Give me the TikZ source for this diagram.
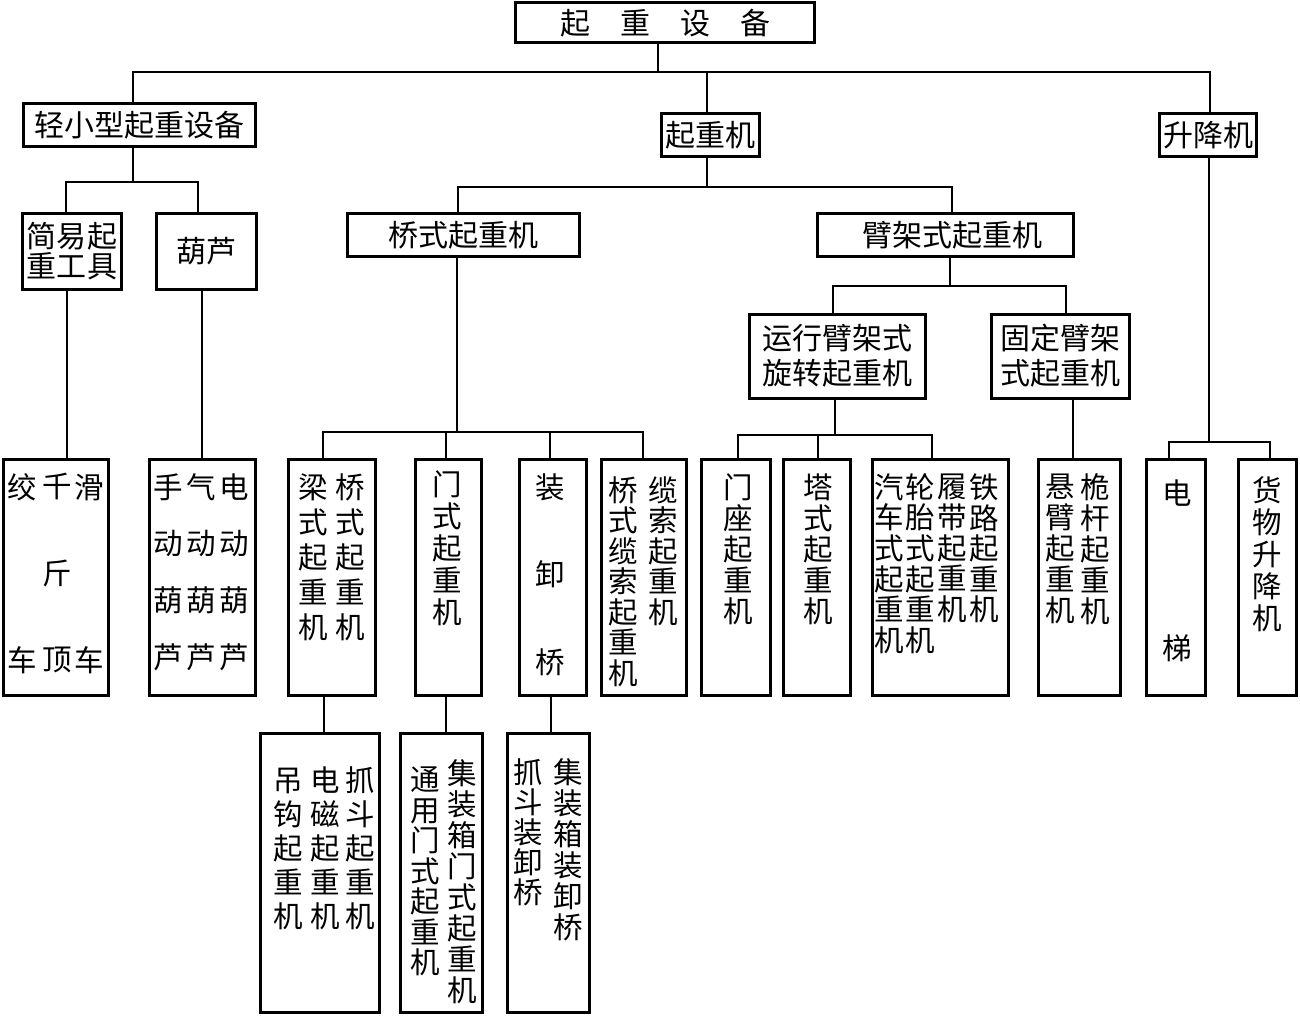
\documentclass[tikz,border=0pt]{standalone}
\usepackage{fontspec}
\newfontfamily\cjk{Noto Sans CJK SC}
\begin{document}
\begin{tikzpicture}[x=1pt,y=-1pt,
  box/.style={draw,line width=3pt,inner sep=0pt,outer sep=0pt,align=center,
    font=\cjk\fontsize{30}{33}\selectfont},
  conn/.style={line width=2pt},
  vt/.style={inner sep=0pt,outer sep=0pt,align=center}]
\useasboundingbox (0,0) rectangle (1300,1016);
\fill[white] (0,0) rectangle (1300,1016);
% ---- level 0 / 1
\node[box,minimum width=299,minimum height=40] (root) at (665,23)
  {起\hspace{30pt}重\hspace{30pt}设\hspace{30pt}备};
\node[box,minimum width=232,minimum height=43] (l1) at (139.5,125.5) {轻小型起重设备};
\node[box,minimum width=98,minimum height=43] (l2) at (710.5,135.5) {起重机};
\node[box,minimum width=97,minimum height=43] (l3) at (1208,135.5) {升降机};
% ---- level 2
\node[box,minimum width=99,minimum height=76,font=\cjk\fontsize{30}{30}\selectfont] (a1) at (72,251.5) {简易起\\重工具};
\node[box,minimum width=100,minimum height=76] (a2) at (206.5,251.5) {葫芦};
\node[box,minimum width=232,minimum height=43] (b1) at (463.5,235.5) {桥式起重机};
\node[box,minimum width=256,minimum height=43] (b2) at (945.5,235.5) {\hspace{13pt}臂架式起重机};
% ---- level 3
\node[box,minimum width=176,minimum height=84,font=\cjk\fontsize{30}{35}\selectfont] (c1) at (837.5,356) {运行臂架式\\旋转起重机};
\node[box,minimum width=138,minimum height=84,font=\cjk\fontsize{30}{35}\selectfont] (c2) at (1060.5,356) {固定臂架\\式起重机};
% ---- level 4 boxes
\tikzset{lv4/.style={box,minimum height=236}}
\node[lv4,minimum width=105] (d1) at (56,577) {};
\node[lv4,minimum width=106] (d2) at (202.5,577) {};
\node[lv4,minimum width=87] (d3) at (332,577) {};
\node[lv4,minimum width=66] (d4) at (448.5,577) {};
\node[lv4,minimum width=67] (d5) at (553,577) {};
\node[lv4,minimum width=85] (d6) at (644,577) {};
\node[lv4,minimum width=69] (d7) at (736,577) {};
\node[lv4,minimum width=67] (d8) at (817,577) {};
\node[lv4,minimum width=136] (d9) at (940.5,577) {};
\node[lv4,minimum width=82] (d10) at (1079.5,577) {};
\node[lv4,minimum width=59] (d11) at (1176,577) {};
\node[lv4,minimum width=58] (d12) at (1267.5,577) {};
% ---- level 5 boxes
\tikzset{lv5/.style={box,minimum height=279}}
\node[lv5,minimum width=119] (e1) at (320,872.5) {};
\node[lv5,minimum width=82] (e2) at (441.5,872.5) {};
\node[lv5,minimum width=82] (e3) at (548.5,872.5) {};
% ---- vertical texts
\newcommand\vf[1]{\cjk\fontsize{29.5}{#1}\selectfont}
\node[vt,font=\vf{173}] (t1a) at (22,573.5) {绞\\车};
\node[vt,font=\vf{86.5}] (t1b) at (57,573.5) {千\\斤\\顶};
\node[vt,font=\vf{173}] (t1c) at (89,573.5) {滑\\车};
\node[vt,font=\vf{56.7}] (t2a) at (168,572) {手\\动\\葫\\芦};
\node[vt,font=\vf{56.7}] (t2b) at (201,572) {气\\动\\葫\\芦};
\node[vt,font=\vf{56.7}] (t2c) at (234,572) {电\\动\\葫\\芦};
\node[vt,font=\vf{35}] (t3a) at (313,557) {梁\\式\\起\\重\\机};
\node[vt,font=\vf{35}] (t3b) at (350,557) {桥\\式\\起\\重\\机};
\node[vt,font=\vf{32}] (t4) at (447,548) {门\\式\\起\\重\\机};
\node[vt,font=\vf{87.5}] (t5) at (550,574.5) {装\\卸\\桥};
\node[vt,font=\vf{30.5}] (t6a) at (623,581.5) {桥\\式\\缆\\索\\起\\重\\机};
\node[vt,font=\vf{30.5}] (t6b) at (663,551) {缆\\索\\起\\重\\机};
\node[vt,font=\vf{31}] (t7) at (738,549) {门\\座\\起\\重\\机};
\node[vt,font=\vf{31}] (t8) at (818,549) {塔\\式\\起\\重\\机};
\node[vt,font=\vf{30.6}] (t9a) at (889,563.5) {汽\\车\\式\\起\\重\\机};
\node[vt,font=\vf{30.6}] (t9b) at (920,563.5) {轮\\胎\\式\\起\\重\\机};
\node[vt,font=\vf{30.6}] (t9c) at (952,548.5) {履\\带\\起\\重\\机};
\node[vt,font=\vf{30.6}] (t9d) at (984,548.5) {铁\\路\\起\\重\\机};
\node[vt,font=\vf{31}] (t10a) at (1060,549) {悬\\臂\\起\\重\\机};
\node[vt,font=\vf{31}] (t10b) at (1095,549) {桅\\杆\\起\\重\\机};
\node[vt,font=\vf{155}] (t11) at (1177,570.5) {电\\梯};
\node[vt,font=\vf{32}] (t12) at (1267,554) {货\\物\\升\\降\\机};
\node[vt,font=\vf{34}] (u1a) at (288,848.5) {吊\\钩\\起\\重\\机};
\node[vt,font=\vf{34}] (u1b) at (325,848.5) {电\\磁\\起\\重\\机};
\node[vt,font=\vf{34}] (u1c) at (360,848.5) {抓\\斗\\起\\重\\机};
\node[vt,font=\vf{30.5}] (u2a) at (425,871.5) {通\\用\\门\\式\\起\\重\\机};
\node[vt,font=\vf{31}] (u2b) at (462,881.5) {集\\装\\箱\\门\\式\\起\\重\\机};
\node[vt,font=\vf{30}] (u3a) at (528,832.5) {抓\\斗\\装\\卸\\桥};
\node[vt,font=\vf{31}] (u3b) at (568,849.5) {集\\装\\箱\\装\\卸\\桥};
% ---- connectors
\draw[conn] ([xshift=-7]root.south) -- ++(0,29) -| ([xshift=-6.5]l1.north);
\draw[conn] ([xshift=-7]root.south) -- ++(0,29) -| ([xshift=-3.5]l2.north);
\draw[conn] ([xshift=-7]root.south) -- ++(0,29) -| ([xshift=2]l3.north);
\draw[conn] ([xshift=-6.5]l1.south) -- ++(0,35) -| ([xshift=-6]a1.north);
\draw[conn] ([xshift=-6.5]l1.south) -- ++(0,35) -| ([xshift=-8.5]a2.north);
\draw[conn] ([xshift=-3.5]l2.south) -- ++(0,30) -| ([xshift=-5.5]b1.north);
\draw[conn] ([xshift=-3.5]l2.south) -- ++(0,30) -| ([xshift=6.5]b2.north);
\draw[conn] ([xshift=4.5]b2.south) -- ++(0,29) -| ([xshift=-4.5]c1.north);
\draw[conn] ([xshift=4.5]b2.south) -- ++(0,29) -| ([xshift=5.5]c2.north);
\draw[conn] ([xshift=-6.5]b1.south) -- ++(0,175) -| ([xshift=-9]d3.north);
\draw[conn] ([xshift=-6.5]b1.south) -- ++(0,175) -| ([xshift=-2.5]d4.north);
\draw[conn] ([xshift=-6.5]b1.south) -- ++(0,175) -| ([xshift=-3]d5.north);
\draw[conn] ([xshift=-6.5]b1.south) -- ++(0,175) -| ([xshift=-1]d6.north);
\draw[conn] ([xshift=-2.5]c1.south) -- ++(0,37) -| ([xshift=2]d7.north);
\draw[conn] ([xshift=-2.5]c1.south) -- ++(0,37) -| ([xshift=1]d8.north);
\draw[conn] ([xshift=-2.5]c1.south) -- ++(0,37) -| ([xshift=-8.5]d9.north);
\draw[conn] ([xshift=12.5]c2.south) -- ([xshift=-6.5]d10.north);
\draw[conn] ([xshift=1]l3.south) -- ++(0,285) -| ([xshift=-7]d11.north);
\draw[conn] ([xshift=1]l3.south) -- ++(0,285) -| ([xshift=2.5]d12.north);
\draw[conn] ([xshift=-5]a1.south) -- ([xshift=11]d1.north);
\draw[conn] ([xshift=-4.5]a2.south) -- ([xshift=-0.5]d2.north);
\draw[conn] ([xshift=-8]d3.south) -- ([xshift=4]e1.north);
\draw[conn] ([xshift=-2.5]d4.south) -- ([xshift=4.5]e2.north);
\draw[conn] ([xshift=-2]d5.south) -- ([xshift=2.5]e3.north);
\end{tikzpicture}
\end{document}
